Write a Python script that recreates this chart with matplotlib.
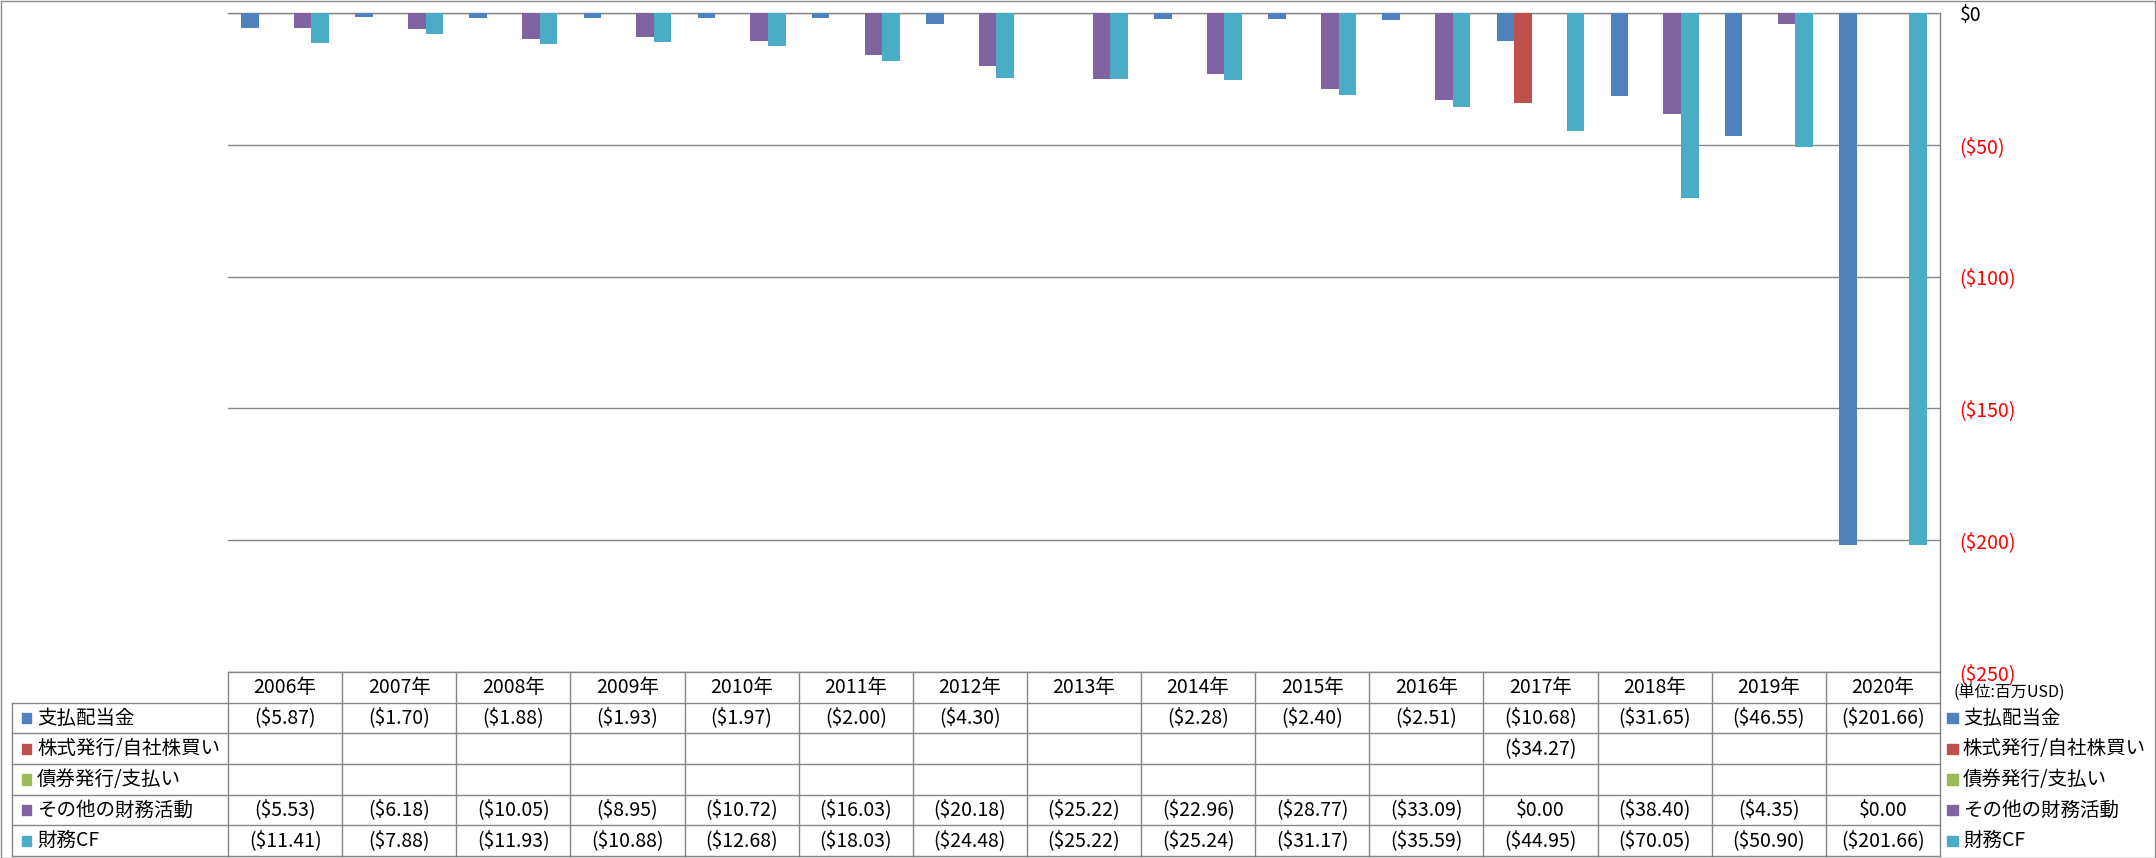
import numpy as np
import matplotlib.pyplot as plt
from matplotlib.patches import Rectangle

plt.rcParams['font.family'] = ['Liberation Sans Narrow', 'Noto Sans CJK JP', 'DejaVu Sans']

# データ (単位: 百万USD)
years = ['2006年', '2007年', '2008年', '2009年', '2010年', '2011年', '2012年', '2013年',
         '2014年', '2015年', '2016年', '2017年', '2018年', '2019年', '2020年']
dividends = [-5.87, -1.70, -1.88, -1.93, -1.97, -2.00, -4.30, None,
             -2.28, -2.40, -2.51, -10.68, -31.65, -46.55, -201.66]
stock = [None] * 11 + [-34.27] + [None] * 3
debt = [None] * 15
other = [-5.53, -6.18, -10.05, -8.95, -10.72, -16.03, -20.18, -25.22,
         -22.96, -28.77, -33.09, 0.00, -38.40, -4.35, 0.00]
fin_cf = [-11.41, -7.88, -11.93, -10.88, -12.68, -18.03, -24.48, -25.22,
          -25.24, -31.17, -35.59, -44.95, -70.05, -50.90, -201.66]

names = ['支払配当金', '株式発行/自社株買い', '債券発行/支払い', 'その他の財務活動', '財務CF']
colors = ['#4F81BD', '#C0504D', '#9BBB59', '#8064A2', '#4BACC6']
series = [dividends, stock, debt, other, fin_cf]

yticks = [0, -50, -100, -150, -200, -250]


def fmt(v):
    if v is None:
        return ''
    if v < 0:
        return '(${:,.2f})'.format(-v)
    return '${:,.2f}'.format(v)


def fmt_tick(v):
    return '(${})'.format(-v) if v < 0 else '${}'.format(v)


W, H = 2156, 858
fig = plt.figure(figsize=(W / 100, H / 100), dpi=100)
grid_c = '#868686'
fs = 14

# グラフ
left, right, top, mid, bottom = 228, 1940, 13, 672, 856
ax = fig.add_axes([left / W, 1 - mid / H, (right - left) / W, (mid - top) / H])
n = len(years)
x = np.arange(n) + 0.5
w = 0.154
for k, s in enumerate(series):
    vals = [np.nan if v is None else v for v in s]
    ax.bar(x + (k - 2) * w, vals, width=w, color=colors[k], zorder=3)

ax.set_xlim(0, n)
ax.set_ylim(-250, 0)
ax.set_xticks([])
ax.yaxis.tick_right()
ax.set_yticks(yticks)
ax.set_yticklabels([fmt_tick(v) for v in yticks], fontsize=fs)
for lab, v in zip(ax.get_yticklabels(), yticks):
    lab.set_color('black' if v == 0 else '#FF0000')
    lab.set_horizontalalignment('left')
ax.tick_params(axis='y', length=0, pad=14)
ax.grid(axis='y', color=grid_c, lw=1)
ax.set_axisbelow(True)
for sp in ['left', 'bottom']:
    ax.spines[sp].set_visible(False)
for sp in ['top', 'right']:
    ax.spines[sp].set_color(grid_c)
    ax.spines[sp].set_linewidth(1)

# データテーブル
tax = fig.add_axes([left / W, 1 - bottom / H, (right - left) / W, (bottom - mid) / H])
tax.set_xlim(0, n)
tax.set_ylim(6, 0)
tax.axis('off')
lab_x = (12 - left) / ((right - left) / n)
lk = dict(color=grid_c, lw=1, clip_on=False)
tax.plot([0, n], [0, 0], **lk)
for r in range(1, 7):
    tax.plot([lab_x, n], [r, r], **lk)
for c in range(n + 1):
    tax.plot([c, c], [0, 6], **lk)
tax.plot([lab_x, lab_x], [1, 6], **lk)

for i, yr in enumerate(years):
    tax.text(i + 0.5, 0.5, yr, ha='center', va='center', fontsize=fs)

for r, (name, col, s) in enumerate(zip(names, colors, series)):
    yc = r + 1.5
    # 左側の凡例
    tax.add_patch(Rectangle((lab_x + 0.09, yc - 0.16), 0.08, 0.33, color=col, clip_on=False))
    tax.text(lab_x + 0.22, yc, name, ha='left', va='center', fontsize=fs)
    # 右側の凡例
    tax.add_patch(Rectangle((n + 0.06, yc - 0.16), 0.095, 0.33, color=col, clip_on=False))
    tax.text(n + 0.2, yc, name, ha='left', va='center', fontsize=fs)
    for i, v in enumerate(s):
        tax.text(i + 0.5, yc, fmt(v), ha='center', va='center', fontsize=fs)

tax.text(n + 0.12, 0.7, '(単位:百万USD)', ha='left', va='center', fontsize=11.5,
         family=['Noto Sans CJK JP', 'DejaVu Sans'])

# 外枠
fig.patches.append(Rectangle((0.5 / W, 0.5 / H), 1 - 1.5 / W, 1 - 1.5 / H, transform=fig.transFigure,
                             fill=False, edgecolor='#8c8c8c', lw=1))

fig.savefig('out.png', dpi=100)
